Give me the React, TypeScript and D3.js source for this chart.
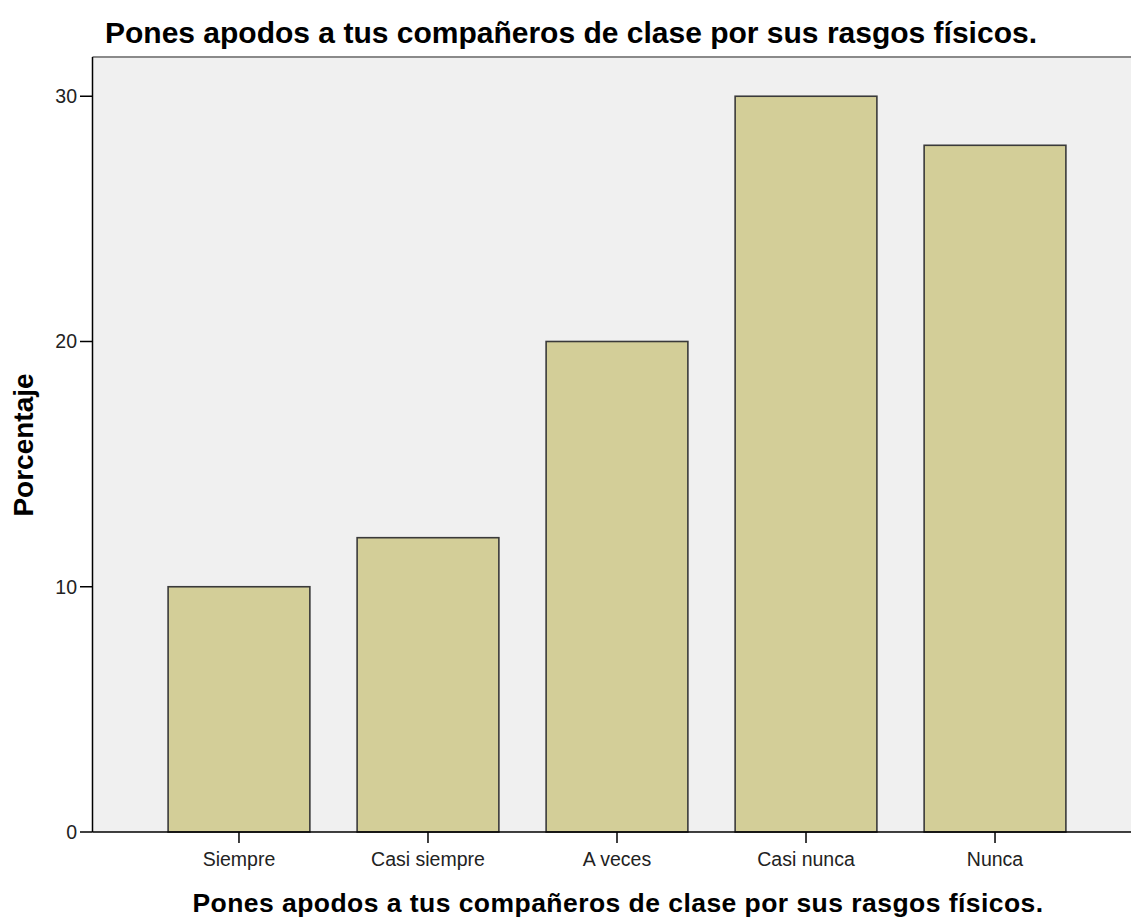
import React from "react";
import * as d3 from "d3";

const categories = ["Siempre", "Casi siempre", "A veces", "Casi nunca", "Nunca"];
const percentages = [10, 12, 20, 30, 28];
const yTicks = [0, 10, 20, 30];
const titleText = "Pones apodos a tus compañeros de clase por sus rasgos físicos.";
const xAxisTitle = "Pones apodos a tus compañeros de clase por sus rasgos físicos.";
const yAxisTitle = "Porcentaje";

const W = 1131;
const H = 917;

export default function App() {
  const left = 92.5;
  const top = 57;
  const bottom = 832;
  const x = d3
    .scaleBand<string>()
    .domain(categories)
    .range([left, 1141.5])
    .paddingInner(0.25)
    .paddingOuter(0.4);
  const y = d3.scaleLinear().domain([0, 31.6]).range([bottom, top]);

  return (
    <svg
      width={W}
      height={H}
      style={{ position: "absolute", left: 0, top: 0, background: "#ffffff" }}
    >
      <rect x={left} y={top} width={W - left} height={bottom - top} fill="#f0f0f0" />
      <line x1={left} x2={W} y1={top} y2={top} stroke="#8a8a8a" strokeWidth={2} />
      {categories.map((c, i) => (
        <rect
          key={c}
          x={x(c)}
          y={y(percentages[i])}
          width={x.bandwidth()}
          height={y(0) - y(percentages[i])}
          fill="#d3ce98"
          stroke="#3a3a3a"
          strokeWidth={1.6}
        />
      ))}
      <line x1={left} x2={left} y1={top} y2={bottom} stroke="#000" strokeWidth={1.5} />
      <line x1={left} x2={W} y1={bottom} y2={bottom} stroke="#000" strokeWidth={1.5} />
      {yTicks.map((t) => (
        <g key={t}>
          <line x1={80} x2={left} y1={y(t)} y2={y(t)} stroke="#000" strokeWidth={1.5} />
          <text
            x={77}
            y={y(t)}
            dy="0.35em"
            textAnchor="end"
            fontFamily="Liberation Sans, Arial, sans-serif"
            fontSize={19.5}
            fill="#222"
          >
            {t}
          </text>
        </g>
      ))}
      {categories.map((c) => {
        const cx = (x(c) as number) + x.bandwidth() / 2;
        return (
          <g key={c}>
            <line x1={cx} x2={cx} y1={bottom} y2={843} stroke="#000" strokeWidth={1.5} />
            <text
              x={cx}
              y={866}
              textAnchor="middle"
              fontFamily="Liberation Sans, Arial, sans-serif"
              fontSize={19.5}
              fill="#222"
            >
              {c}
            </text>
          </g>
        );
      })}
      <text
        x={105}
        y={43}
        fontFamily="Liberation Sans, Arial, sans-serif"
        fontWeight="bold"
        fontSize={30}
        fill="#000"
      >
        {titleText}
      </text>
      <text
        x={618}
        y={912}
        textAnchor="middle"
        fontFamily="Liberation Sans, Arial, sans-serif"
        fontWeight="bold"
        fontSize={26.5}
        letterSpacing={0.45}
        fill="#000"
      >
        {xAxisTitle}
      </text>
      <text
        transform="translate(33,445) rotate(-90)"
        textAnchor="middle"
        fontFamily="Liberation Sans, Arial, sans-serif"
        fontWeight="bold"
        fontSize={28}
        fill="#000"
      >
        {yAxisTitle}
      </text>
    </svg>
  );
}
